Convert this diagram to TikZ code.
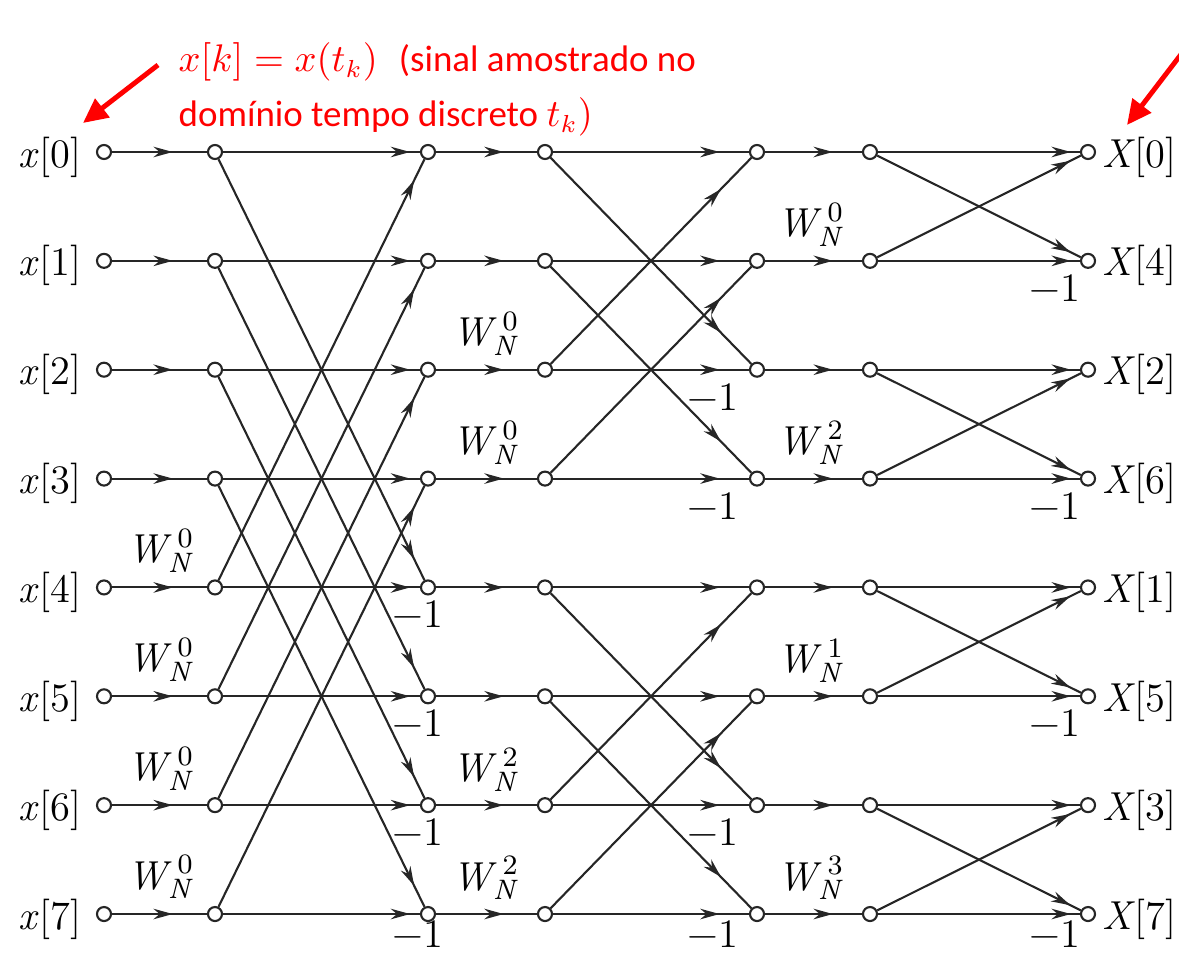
\documentclass[tikz,border=0pt]{standalone}
\usepackage{fontspec}
\newfontfamily\notefont{Carlito}
\usetikzlibrary{arrows.meta,decorations.markings}

% twiddle factor W_N^k
\newcommand{\wn}[1]{\textit{W}\kern-1.2pt\rlap{\raisebox{-2.8pt}{\fontsize{8}{8}\selectfont\textit{N}}}\kern2.8pt\raisebox{4.3pt}{\fontsize{8}{8}\selectfont #1}}

\tikzset{
  dot/.style={circle,draw=black!85,fill=white,line width=0.6pt,inner sep=0pt,minimum size=0.14cm},
  wire/.style={line width=0.6pt,draw=black!85},
  flow/.style={wire,postaction={decorate},
    decoration={markings,mark=at position #1 with {\arrow{Stealth[length=5.5pt,width=3pt]}}}},
  sig/.style={font=\rmfamily\fontsize{11.5}{13}\selectfont,inner sep=0pt},
  gain/.style={font=\rmfamily\fontsize{11.5}{13}\selectfont,inner sep=0pt},
  note/.style={red,font=\notefont\fontsize{10.5}{16}\selectfont,inner sep=0pt,anchor=base west},
  pointer/.style={red,line width=1.4pt,-{Triangle[length=7pt,width=6.5pt]}},
}

\begin{document}
\begin{tikzpicture}[x=0.01cm,y=-0.01cm]
  \useasboundingbox (0,0) rectangle (1179,955);

  % nodes of the flow graph
  \foreach \i in {0,...,7}
    \foreach \col/\xx in {in/104,a/215,b/428,c/545,d/757,e/870,out/1088}
      \node[dot] (\col\i) at (\xx,{152+108.86*\i}) {};

  % inputs and outputs
  \foreach \i in {0,...,7}
    \node[sig,anchor=east,yshift=-1.4pt] (xin\i) at ([xshift=-4pt]in\i.west) {\textit{x}[\i]};
  \foreach \i/\k in {0/0,1/4,2/2,3/6,4/1,5/5,6/3,7/7}
    \node[sig,anchor=west,yshift=-1.4pt] (Xout\i) at ([xshift=1.5pt]out\i.east) {\textit{X}[\k]};

  % straight branches
  \foreach \i in {0,...,7} {
    \draw[flow=0.64] (in\i) -- (a\i);
    \draw[flow=0.95] (a\i) -- (b\i);
    \draw[flow=0.67] (b\i) -- (c\i);
    \draw[flow=0.85] (c\i) -- (d\i);
    \draw[flow=0.70] (d\i) -- (e\i);
    \draw[flow=0.955] (e\i) -- (out\i);
  }

  % crossing branches of the three stages
  \foreach \i/\j in {0/4,1/5,2/6,3/7,4/0,5/1,6/2,7/3}
    \draw[flow=0.95] (a\i) -- (b\j);
  \foreach \i/\j in {0/2,1/3,2/0,3/1,4/6,5/7,6/4,7/5}
    \draw[flow=0.85] (c\i) -- (d\j);
  \foreach \i/\j in {0/1,1/0,2/3,3/2,4/5,5/4,6/7,7/6}
    \draw[flow=0.95] (e\i) -- (out\j);

  % twiddle factors
  \foreach \i in {4,...,7}
    \node[gain] (g1\i) at ([shift={(-55,-37)}]a\i) {\wn{0}};
  \foreach \i/\p in {2/0,3/0,6/2,7/2}
    \node[gain] (g2\i) at ([shift={(-60,-36)}]c\i) {\wn{\p}};
  \foreach \i/\p in {1/0,3/2,5/1,7/3}
    \node[gain] (g3\i) at ([shift={(-60,-36)}]e\i) {\wn{\p}};

  % -1 branches (last row a bit higher, at the lower edge)
  \foreach \i/\dy in {4/27,5/27,6/27,7/20}
    \node[gain] (m1\i) at ([shift={(-10,\dy)}]b\i) {−1};
  \foreach \i/\dy in {2/27,3/27,6/27,7/20}
    \node[gain] (m2\i) at ([shift={(-44,\dy)}]d\i) {−1};
  \foreach \i/\dy in {1/27,3/27,5/27,7/20}
    \node[gain] (m3\i) at ([shift={(-33,\dy)}]out\i) {−1};

  % red remarks
  \node[note] (note1) at (178,72) {$x[k]=x(t_k)$\hspace{6pt}(sinal amostrado no};
  \node[note] (note2) at (178,127) {domínio tempo discreto $t_k\bigr)$};
  \coordinate (p1s) at (158,65);
  \coordinate (p1e) at (83,123);
  \draw[pointer] (p1s) -- (p1e);
  \coordinate (p2s) at (1192,40);
  \coordinate (p2e) at (1127,125);
  \draw[pointer] (p2s) -- (p2e);
\end{tikzpicture}
\end{document}
